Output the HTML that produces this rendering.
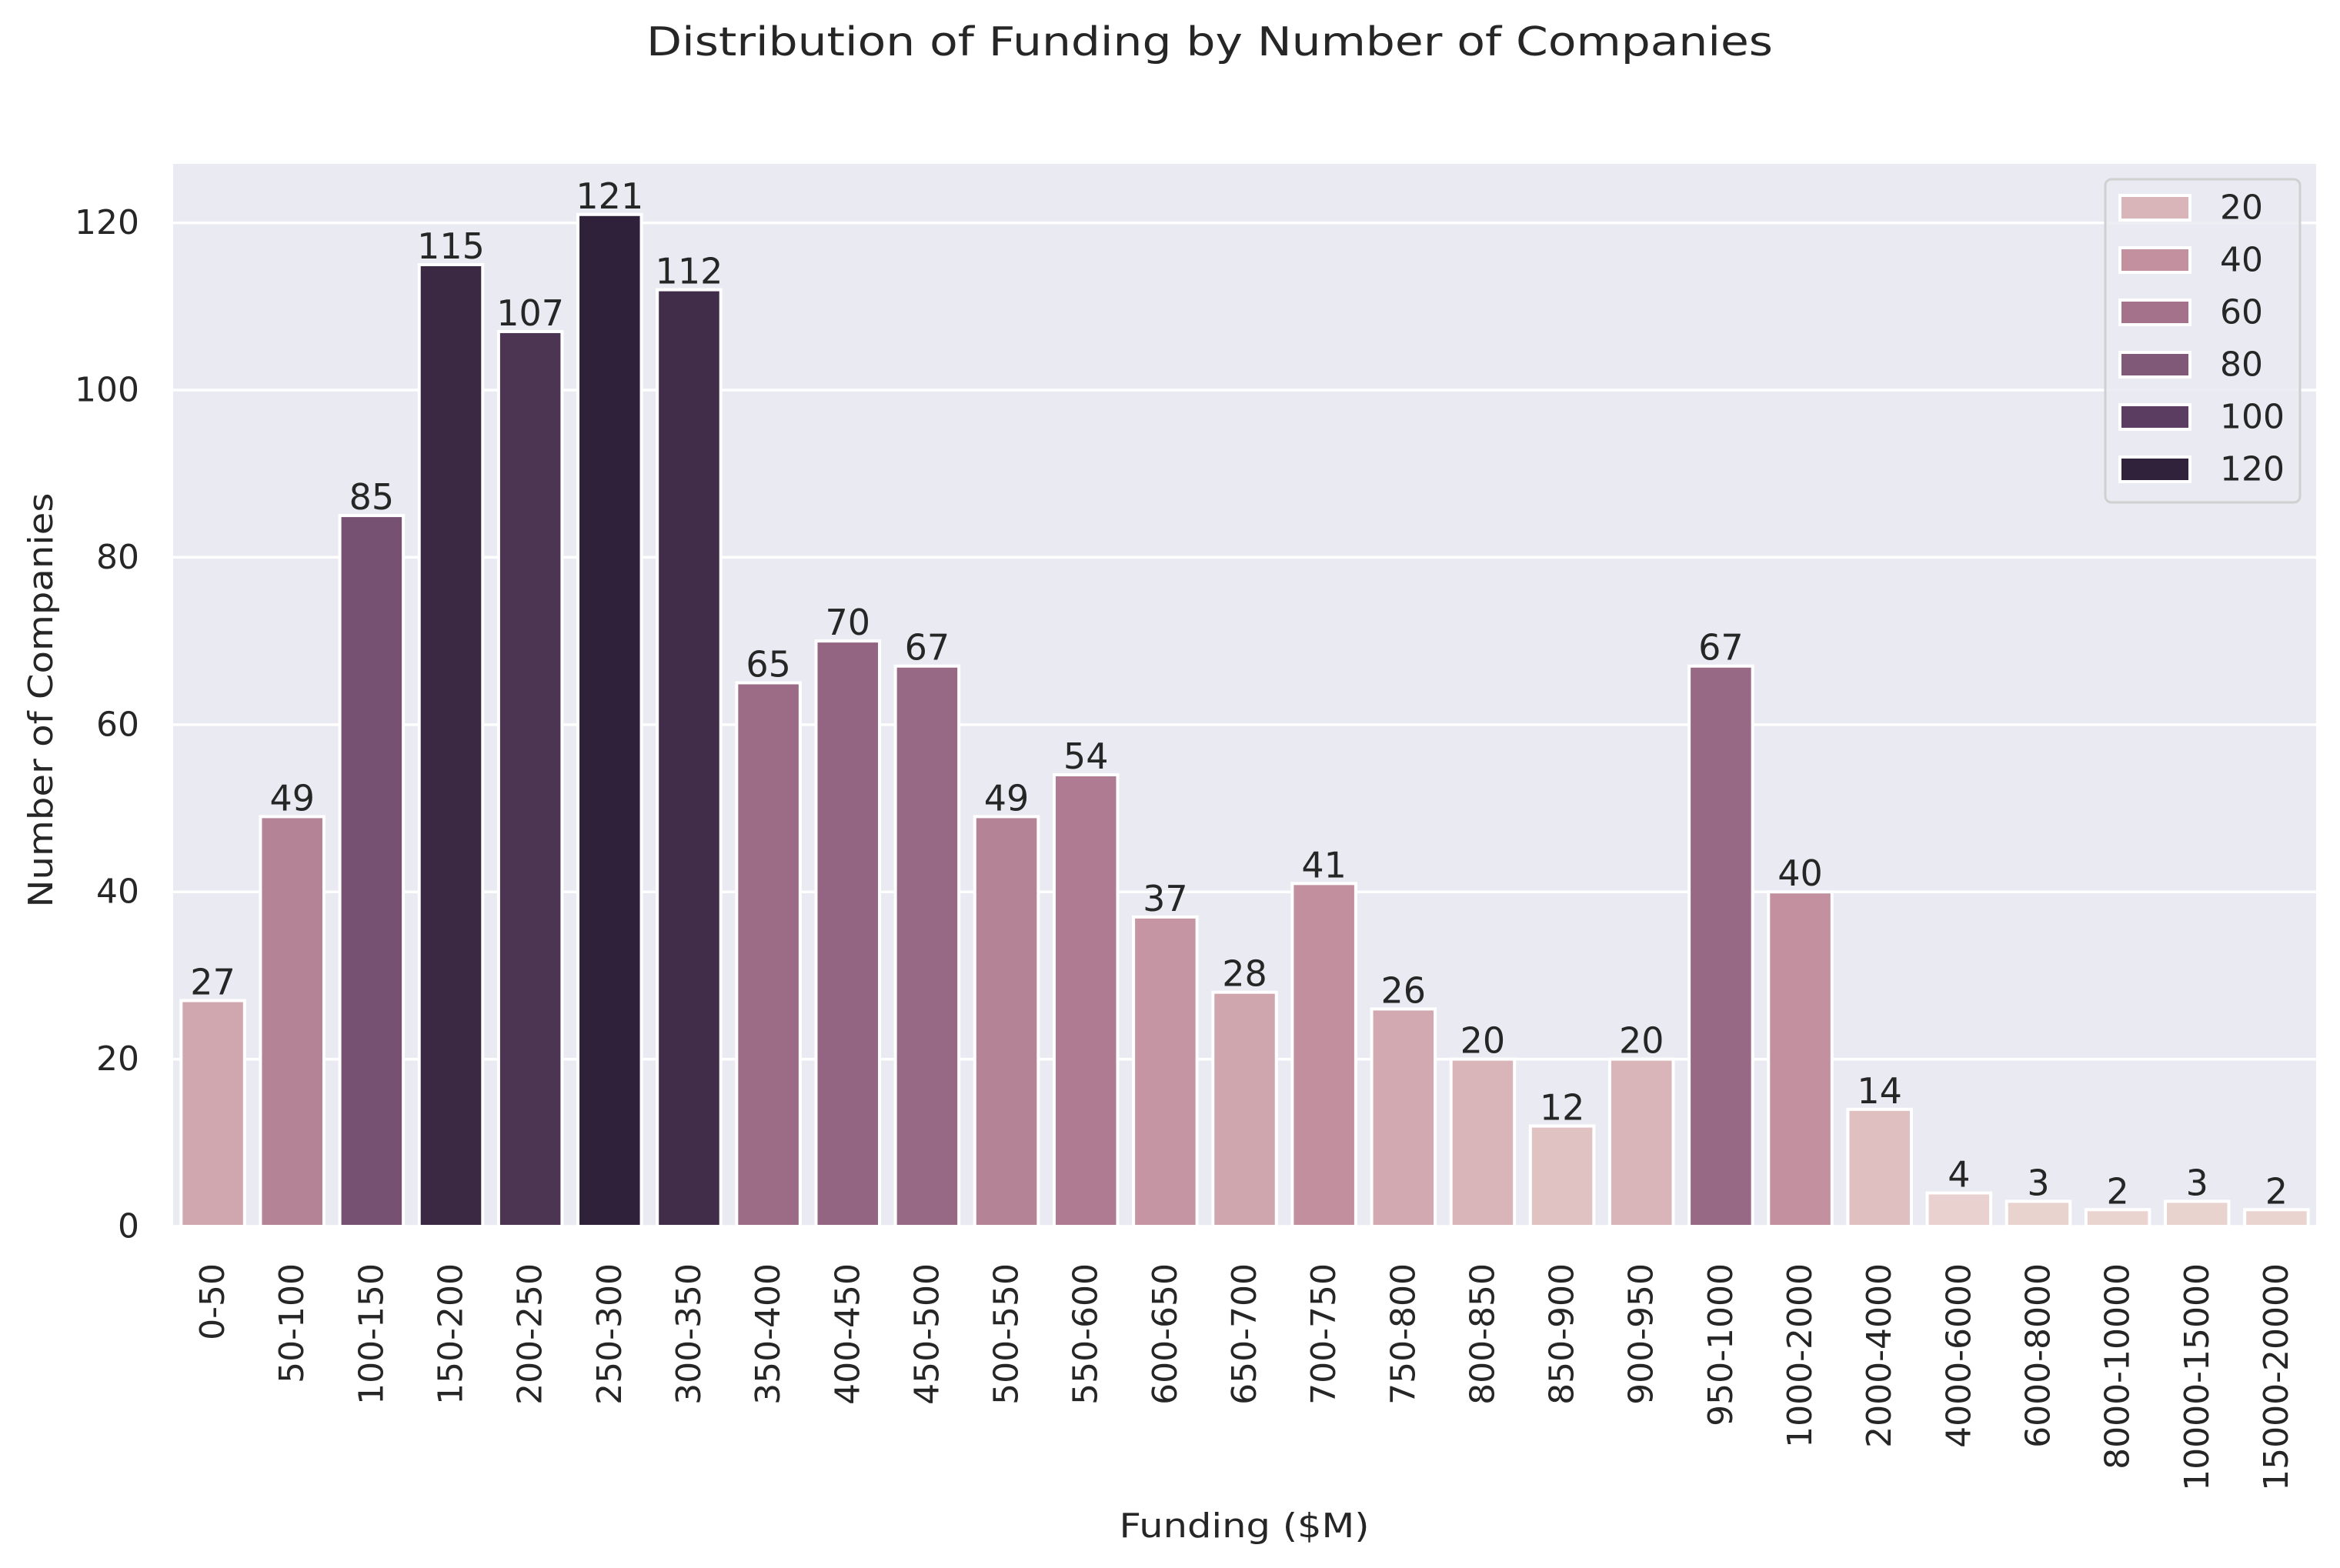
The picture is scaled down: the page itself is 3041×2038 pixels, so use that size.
<!DOCTYPE html>
<html><head><meta charset="utf-8"><style>
html,body{margin:0;padding:0;background:#fff}
svg{display:block}
text{font-family:"DejaVu Sans","Liberation Sans",sans-serif;fill:#262626}
</style></head><body>
<svg id="chart" width="3041" height="2038" viewBox="0 0 3041 2038" xmlns="http://www.w3.org/2000/svg">
<rect x="0" y="0" width="3041" height="2038" fill="#ffffff"/>
<text x="1572" y="72" text-anchor="middle" font-size="52" textLength="1464" lengthAdjust="spacingAndGlyphs">Distribution of Funding by Number of Companies</text>
<rect x="225" y="213" width="2785" height="1381" fill="#eaeaf2"/>
<g id="grid"></g><g id="bars"></g><g id="ylabels"></g><g id="xlabels"></g>
<text x="1617" y="1998" text-anchor="middle" font-size="44" textLength="325" lengthAdjust="spacingAndGlyphs">Funding ($M)</text>
<text transform="translate(68,910) rotate(-90)" text-anchor="middle" font-size="44" textLength="539" lengthAdjust="spacingAndGlyphs">Number of Companies</text>
<g id="legend"></g>
</svg>
<script>
const categories = ["0-50","50-100","100-150","150-200","200-250","250-300","300-350","350-400","400-450","450-500","500-550","550-600","600-650","650-700","700-750","750-800","800-850","850-900","900-950","950-1000","1000-2000","2000-4000","4000-6000","6000-8000","8000-10000","10000-15000","15000-20000"];
const counts = [27,49,85,115,107,121,112,65,70,67,49,54,37,28,41,26,20,12,20,67,40,14,4,3,2,3,2];
const yTicks = [0,20,40,60,80,100,120];
const legendValues = [20,40,60,80,100,120];

const NS = "http://www.w3.org/2000/svg";
const L = 225, R = 3010, T = 213, B = 1594;
const yMax = Math.max(...counts) * 1.05;
const step = (R - L) / categories.length;
function xCenter(i){ return L + step * (i + 0.5); }
function yPos(v){ return B - (v / yMax) * (B - T); }

const stops = [[0,[236,216,211]],[20,[217,180,184]],[40,[194,144,159]],[60,[165,114,140]],[80,[128,88,120]],[100,[90,61,96]],[120,[49,34,59]],[130,[40,26,48]]];
function colorFor(v){
  for (let k = 0; k < stops.length - 1; k++){
    const a = stops[k], b = stops[k+1];
    if (v <= b[0]){
      const t = Math.max(0, (v - a[0]) / (b[0] - a[0]));
      const c = a[1].map((x, j) => Math.round(x + (b[1][j] - x) * t));
      return "rgb(" + c.join(",") + ")";
    }
  }
  return "rgb(40,26,48)";
}
function mk(tag, attrs, parent){
  const e = document.createElementNS(NS, tag);
  for (const k in attrs) e.setAttribute(k, attrs[k]);
  parent.appendChild(e);
  return e;
}
const grid = document.getElementById("grid");
const ylabels = document.getElementById("ylabels");
yTicks.forEach(v => {
  const y = yPos(v);
  const g = mk("line", {x1:L, x2:R, y1:y, y2:y, stroke:"#ffffff", "stroke-width":3.5}, grid);
  
  
  const t = mk("text", {x:181, y:y, "text-anchor":"end", "dominant-baseline":"central", "font-size":44}, ylabels);
  t.textContent = v;
  
  
});
const bars = document.getElementById("bars");
const xlabels = document.getElementById("xlabels");
const bw = step * 0.8;
counts.forEach((v, i) => {
  const cx = xCenter(i), y = yPos(v);
  const r = mk("rect", {x:cx - bw/2, y:y, width:bw, height:B - y, fill:colorFor(v), stroke:"#ffffff", "stroke-width":4}, bars);
  
  
  const lbl = mk("text", {x:cx, y:y - 8, "text-anchor":"middle", "font-size":46}, bars);
  lbl.textContent = v;
  
  
  const xt = mk("text", {transform:"translate(" + cx + ",1642) rotate(-90)", "text-anchor":"end", "dominant-baseline":"central", "font-size":44}, xlabels);
  xt.textContent = categories[i];
  
  
});
const legend = document.getElementById("legend");
const box = mk("rect", {x:2736, y:233, width:253, height:420, rx:8, fill:"#eaeaf2", "fill-opacity":0.85, stroke:"#d0d0d0", "stroke-width":3}, legend);


legendValues.forEach((v, k) => {
  const cy = 270 + k * 68;
  const p = mk("rect", {x:2755, y:cy - 16, width:91, height:32, fill:colorFor(v), stroke:"#ffffff", "stroke-width":4}, legend);
  
  
  const t = mk("text", {x:2885, y:cy, "dominant-baseline":"central", "font-size":44}, legend);
  t.textContent = v;
  
  
});
</script>
</body></html>
